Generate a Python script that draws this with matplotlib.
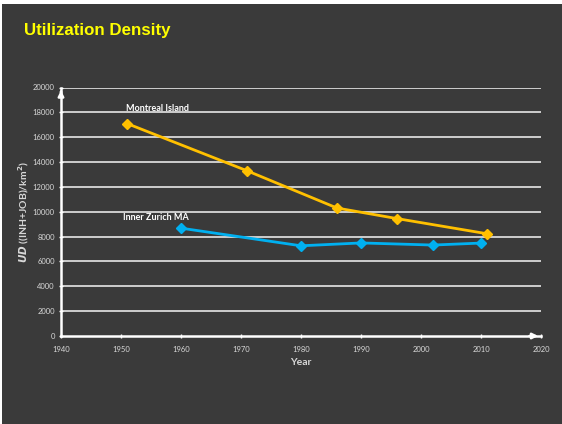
import matplotlib.pyplot as plt

# values
montreal_years = [1951, 1971, 1986, 1996, 2011]
montreal_ud = [17100, 13300, 10300, 9450, 8230]

zurich_years = [1960, 1980, 1990, 2002, 2010]
zurich_ud = [8680, 7260, 7490, 7320, 7480]

x_ticks = [1940, 1950, 1960, 1970, 1980, 1990, 2000, 2010, 2020]
y_ticks = list(range(0, 20001, 2000))

BG = '#3a3a3a'
GRID = '#d9d9d9'
TXT = '#d8d8d8'

fig = plt.figure(figsize=(5.62, 4.24), dpi=100)
fig.patch.set_facecolor(BG)
# thin white strips on top and left like the slide screenshot
fig.patches.append(plt.Rectangle((0, 1 - 4 / 424), 1, 4 / 424, transform=fig.transFigure,
                                 facecolor='white', edgecolor='none', zorder=-5))
fig.patches.append(plt.Rectangle((0, 0), 2 / 562, 1, transform=fig.transFigure,
                                 facecolor='white', edgecolor='none', zorder=-5))

fig.text(24 / 562, 1 - 31 / 424, 'Utilization Density', color='#ffff00', fontsize=12.2,
         fontweight='bold', family='Liberation Sans', va='center', ha='left')

ax = fig.add_axes([61 / 562, 1 - 336 / 424, 480 / 562, 248.5 / 424])
ax.set_facecolor(BG)
ax.set_xlim(1940, 2020)
ax.set_ylim(0, 20000)

for y in y_ticks[1:]:
    ax.axhline(y, color=GRID, lw=1.3, zorder=1)

ax.plot(montreal_years, montreal_ud, color='#ffc000', lw=2, marker='D', ms=5.5, zorder=3,
        clip_on=False)
ax.plot(zurich_years, zurich_ud, color='#00b0f0', lw=2, marker='D', ms=5.5, zorder=3,
        clip_on=False)

ax.text(1956.1, 18350, 'Montreal Island', color='white', fontsize=6.5, fontweight='bold',
        family='Lato', ha='center', va='center')
ax.text(1955.8, 9560, 'Inner Zurich MA', color='white', fontsize=6.5, fontweight='bold',
        family='Lato', ha='center', va='center')

for s in ['top', 'right']:
    ax.spines[s].set_visible(False)
for s in ['left', 'bottom']:
    ax.spines[s].set_color('white')
    ax.spines[s].set_linewidth(1.8)
    ax.spines[s].set_zorder(4)

# arrow heads at the axis ends
ax.annotate('', xy=(1, 0), xytext=(0.97, 0), xycoords='axes fraction',
            arrowprops=dict(arrowstyle='-|>', color='white', lw=1.8, mutation_scale=8),
            annotation_clip=False)
ax.annotate('', xy=(0, 1), xytext=(0, 0.97), xycoords='axes fraction',
            arrowprops=dict(arrowstyle='-|>', color='white', lw=1.8, mutation_scale=8),
            annotation_clip=False)

ax.set_xticks(x_ticks)
ax.set_yticks(y_ticks)
ax.tick_params(colors='white', direction='inout', length=3, width=1, labelsize=5.5,
               labelcolor=TXT)
ax.tick_params(axis='x', pad=6)
ax.tick_params(axis='y', pad=3)
for lab in ax.get_xticklabels() + ax.get_yticklabels():
    lab.set_family('Lato')

ax.set_xlabel('Year', color=TXT, fontsize=7.5, fontweight='bold', family='Lato', labelpad=3)
ax.set_ylabel(r'$\mathbfit{UD}$ ((INH+JOB)/km$^{\mathbf{2}}$)', color=TXT, fontsize=7.5,
              fontweight='bold', family='Lato')
ax.yaxis.set_label_coords(-30 / 480, 0.5)

fig.savefig('out.png', dpi=100, facecolor=fig.get_facecolor())
